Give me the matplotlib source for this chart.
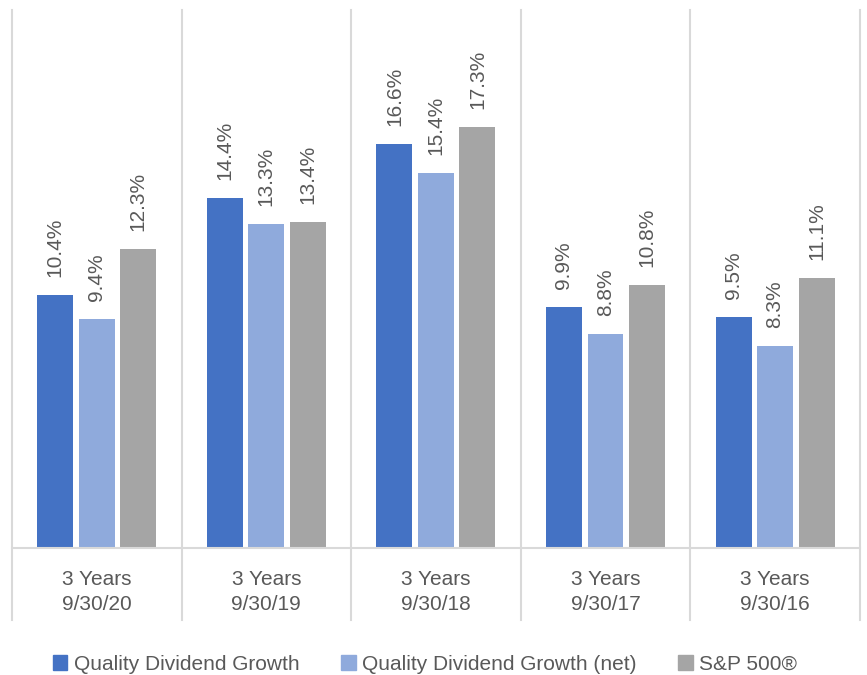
import matplotlib
matplotlib.use("Agg")
import matplotlib.pyplot as plt
import matplotlib.patches as patches
import numpy as np

plt.rcParams['font.family'] = ['Liberation Sans', 'DejaVu Sans']

# data
categories = ["3 Years\n9/30/20", "3 Years\n9/30/19", "3 Years\n9/30/18",
              "3 Years\n9/30/17", "3 Years\n9/30/16"]
series_names = ["Quality Dividend Growth", "Quality Dividend Growth (net)", "S&P 500\u00ae"]
qdg = [10.4, 14.4, 16.6, 9.9, 9.5]
qdg_net = [9.4, 13.3, 15.4, 8.8, 8.3]
sp500 = [12.3, 13.4, 17.3, 10.8, 11.1]
colors = ["#4472C4", "#8FAADC", "#A5A5A5"]

text_col = "#595959"
grid_col = "#D9D9D9"

fig = plt.figure(figsize=(8.67, 6.75), dpi=100)
ax = fig.add_axes([0.0138, 0.188, 0.978, 0.797])

x = np.arange(len(categories))
width = 0.212
offsets = [-0.245, 0, 0.245]
for vals, off, col in zip([qdg, qdg_net, sp500], offsets, colors):
    bars = ax.bar(x + off, vals, width, color=col, zorder=2)
    for b, v in zip(bars, vals):
        ax.annotate(f"{v:.1f}%", (b.get_x() + b.get_width() / 2, v),
                    xytext=(0, 13), textcoords="offset points",
                    rotation=90, ha="center", va="bottom",
                    fontsize=15, color=text_col)

ax.set_xlim(-0.5, len(categories) - 0.5)
ax.set_ylim(0, 22.1)
ax.axis("off")

# separators between categories, extending below the baseline
for b in np.arange(len(categories) + 1) - 0.5:
    ax.plot([b, b], [-2.95, 22.1], color=grid_col, lw=1.5, clip_on=False, zorder=1)
ax.plot([-0.5, len(categories) - 0.5], [0, 0], color=grid_col, lw=1.5, clip_on=False, zorder=3)

for xi, lab in zip(x, categories):
    ax.text(xi, -1.8, lab, ha="center", va="center", fontsize=15,
            color=text_col, linespacing=1.4)

handles = [patches.Patch(color=c) for c in colors]
fig.legend(handles, series_names, loc="lower center", ncol=3, frameon=False,
           bbox_to_anchor=(0.49, -0.026), fontsize=15, labelcolor=text_col,
           handlelength=0.7, handleheight=0.7, handletextpad=0.3, columnspacing=2.0)

fig.savefig("out.png", dpi=100)
